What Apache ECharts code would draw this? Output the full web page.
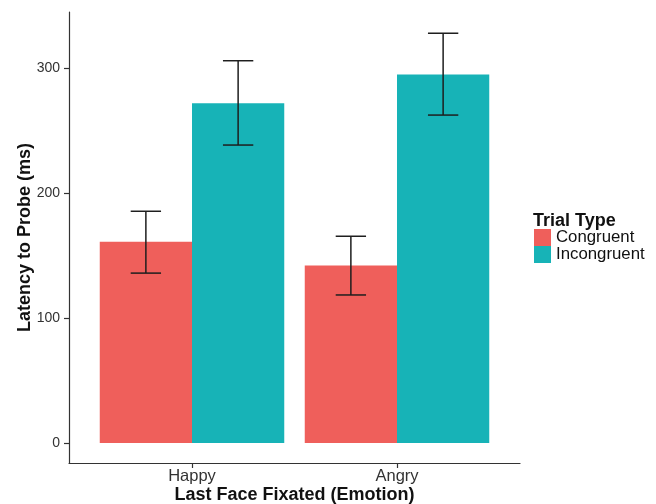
<!DOCTYPE html>
<html>
<head>
<meta charset="utf-8">
<script src="https://cdn.jsdelivr.net/npm/echarts@6/dist/echarts.min.js"></script>
<style>
html,body{margin:0;padding:0;background:#fff;}
#chart{width:656px;height:504px;}
</style>
</head>
<body>
<div id="chart"></div>
<script>
var categories = ['Happy', 'Angry'];
var groups = ['Congruent', 'Incongruent'];
var congruentMeans = [161, 142];
var incongruentMeans = [272, 295];
var congruentLow = [136, 118.5];
var congruentHigh = [185.5, 165.5];
var incongruentLow = [238.5, 262.5];
var incongruentHigh = [306, 328];
var yTicks = [0, 100, 200, 300];
var colors = ['#EF5F5B', '#17B3B7'];

var means = [congruentMeans, incongruentMeans];
var lows = [congruentLow, incongruentLow];
var highs = [congruentHigh, incongruentHigh];
var barW = 0.45;

function barSeries(gi) {
  var data = categories.map(function (c, ci) { return [ci + 1, means[gi][ci]]; });
  return {
    type: 'custom',
    name: groups[gi],
    itemStyle: { color: colors[gi] },
    data: data,
    encode: { x: 0, y: 1 },
    renderItem: function (params, api) {
      var x = api.value(0), v = api.value(1);
      var x0 = x - barW + gi * barW, x1 = x + gi * barW;
      var p0 = api.coord([x0, v]);
      var p1 = api.coord([x1, 0]);
      return {
        type: 'rect',
        shape: { x: p0[0], y: p0[1], width: p1[0] - p0[0], height: p1[1] - p0[1] },
        style: { fill: colors[gi] }
      };
    },
    z: 2
  };
}

var errData = [];
for (var gi = 0; gi < 2; gi++) {
  for (var ci = 0; ci < categories.length; ci++) {
    errData.push([ci + 1 + (gi - 0.5) * barW, lows[gi][ci], highs[gi][ci]]);
  }
}

var capHalf = 0.074;
var errSeries = {
  type: 'custom',
  name: 'errors',
  data: errData,
  encode: { x: 0, y: [1, 2] },
  renderItem: function (params, api) {
    var x = api.value(0), lo = api.value(1), hi = api.value(2);
    var pLo = api.coord([x, lo]), pHi = api.coord([x, hi]);
    var cl = api.coord([x - capHalf, lo]), cr = api.coord([x + capHalf, lo]);
    var style = { stroke: '#1e1e1e', lineWidth: 1.5 };
    return {
      type: 'group',
      children: [
        { type: 'line', shape: { x1: pLo[0], y1: pLo[1], x2: pHi[0], y2: pHi[1] }, style: style },
        { type: 'line', shape: { x1: cl[0], y1: pLo[1], x2: cr[0], y2: pLo[1] }, style: style },
        { type: 'line', shape: { x1: cl[0], y1: pHi[1], x2: cr[0], y2: pHi[1] }, style: style }
      ]
    };
  },
  z: 3
};

var chart = echarts.init(document.getElementById('chart'), null, { renderer: 'canvas' });
chart.setOption({
  backgroundColor: '#ffffff',
  animation: false,
  textStyle: { fontFamily: 'Liberation Sans, Arial, sans-serif' },
  grid: { left: 69, right: 136, top: 12, bottom: 41, containLabel: false, outerBoundsMode: 'none' },
  title: {
    text: 'Trial Type',
    left: 528, top: 207,
    textStyle: { fontSize: 18, fontWeight: 'bold', color: '#111', fontFamily: 'Liberation Sans, Arial, sans-serif' }
  },
  legend: {
    data: groups,
    orient: 'vertical',
    left: 534, top: 229,
    itemWidth: 17, itemHeight: 17, itemGap: 0,
    icon: 'rect',
    padding: 0,
    textStyle: { fontSize: 16.8, color: '#111', fontFamily: 'Liberation Sans, Arial, sans-serif' },
    selectedMode: false
  },
  xAxis: {
    type: 'value',
    min: 0.4, max: 2.6,
    name: 'Last Face Fixated (Emotion)',
    nameLocation: 'middle',
    nameGap: 23,
    nameMoveOverlap: false,
    nameTextStyle: { fontSize: 18, fontWeight: 'bold', color: '#111', verticalAlign: 'top' },
    splitLine: { show: false },
    axisLine: { show: true, onZero: false, lineStyle: { color: '#333', width: 1.2 } },
    axisTick: { show: true, length: 5, lineStyle: { color: '#333', width: 1.2 }, customValues: [1, 2] },
    axisLabel: {
      customValues: [1, 2],
      fontSize: 16.5, color: '#333', margin: 5,
      formatter: function (v) { return categories[Math.round(v) - 1]; }
    }
  },
  yAxis: {
    type: 'value',
    min: -16, max: 345,
    name: 'Latency to Probe (ms)',
    nameLocation: 'middle',
    nameGap: 35,
    nameMoveOverlap: false,
    nameTextStyle: { fontSize: 18, fontWeight: 'bold', color: '#111', verticalAlign: 'bottom' },
    splitLine: { show: false },
    axisLine: { show: true, onZero: false, lineStyle: { color: '#333', width: 1.2 } },
    axisTick: { show: true, length: 5, lineStyle: { color: '#333', width: 1.2 }, customValues: yTicks },
    axisLabel: { customValues: yTicks, fontSize: 14, color: '#333', margin: 9 }
  },
  series: [barSeries(0), barSeries(1), errSeries]
});
</script>
</body>
</html>
